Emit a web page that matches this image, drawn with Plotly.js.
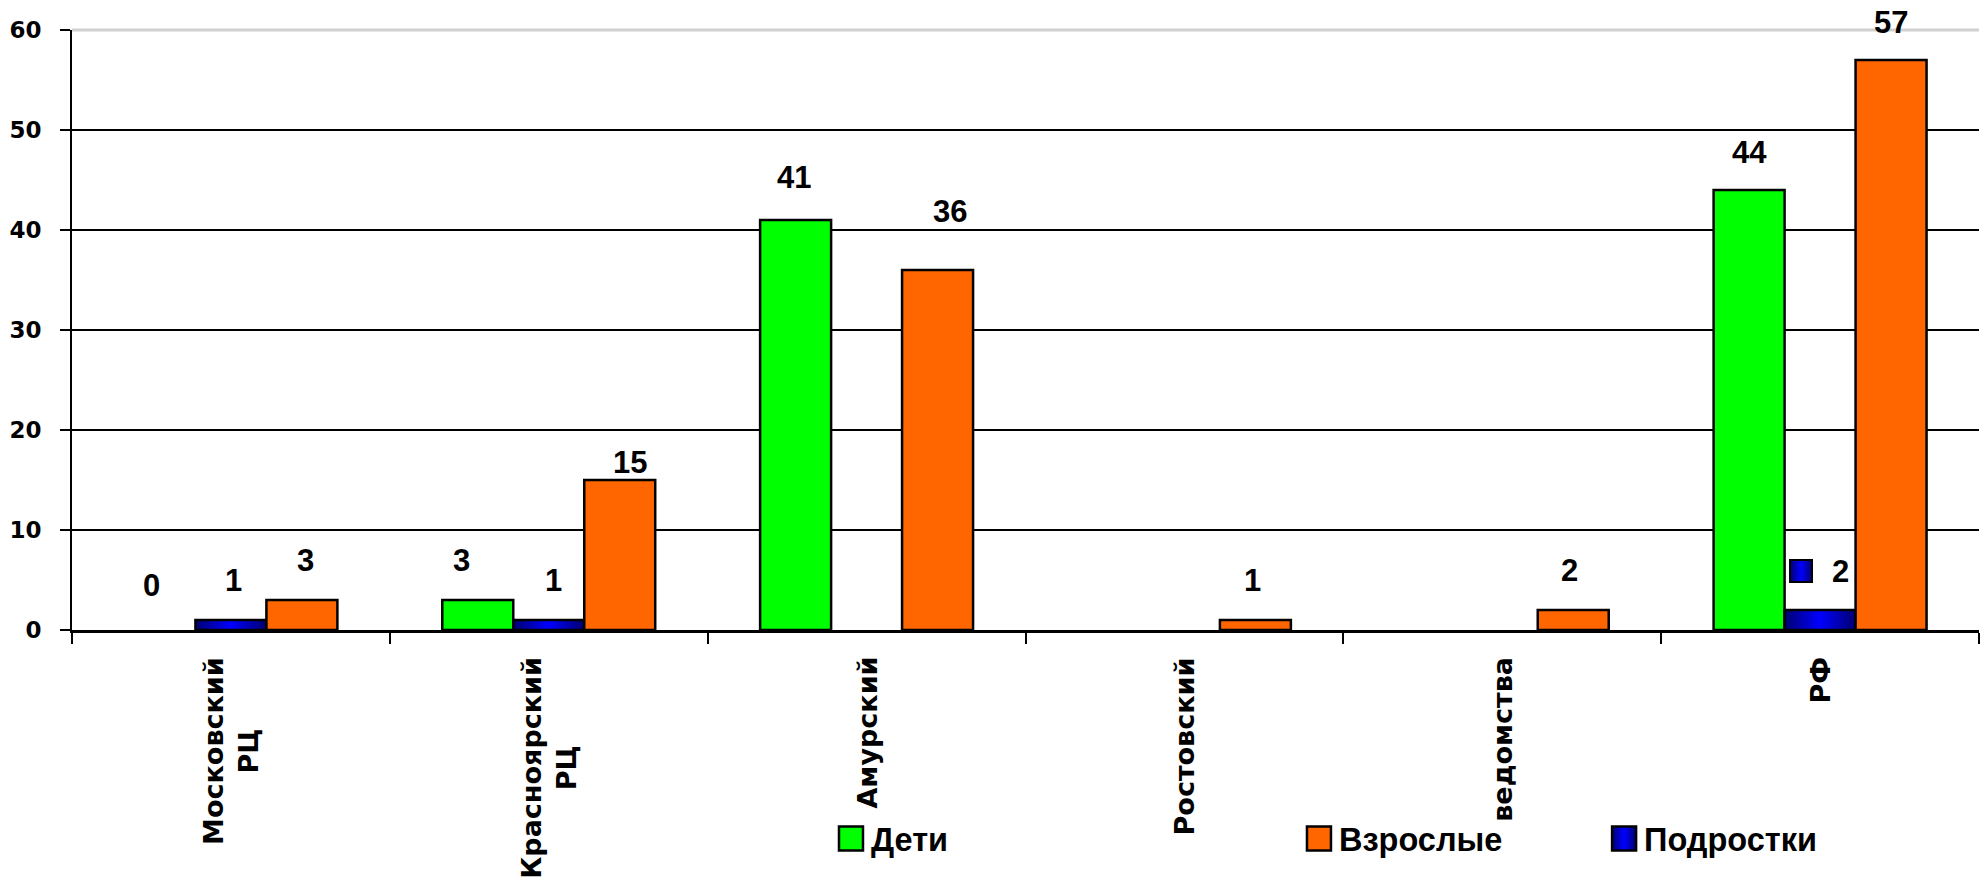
<!DOCTYPE html>
<html>
<head>
<meta charset="utf-8">
<script src="https://cdn.plot.ly/plotly-3.0.1.min.js"></script>
<style>
  html, body { margin: 0; padding: 0; background: #ffffff; }
  #chart { width: 1988px; height: 882px; }
</style>
</head>
<body>
<div id="chart"></div>
<script>
// ---- data ----
const categories = ["Московский РЦ", "Красноярский РЦ", "Амурский", "Ростовский", "ведомства", "РФ"];
const categoryLabels = ["Московский<br>РЦ", "Красноярский<br>РЦ", "Амурский", "Ростовский", "ведомства", "РФ"];
const seriesNames = ["Дети", "Подростки", "Взрослые"];
const deti = [0, 3, 41, null, null, 44];
const podrostki = [1, 1, null, null, null, 2];
const vzroslye = [3, 15, 36, 1, 2, 57];
const yTicks = [0, 10, 20, 30, 40, 50, 60];
// label of РФ / Подростки carries a legend key in the original
const keyedLabel = { series: 1, index: 5 };

// ---- styles (label offsets in px, as placed in the original) ----
const labelDy = [
  [45, 40, 43, 40, 40, 38],
  [40, 40, 40, 40, 40, 39],
  [40, 18, 59, 40, 40, 38]
];
const labelDx = [
  [-8, -16, -2, 0, 0, 0],
  [3, 5, 0, 0, 0, 0],
  [4, 10, 12, -3, -4, 0]
];
const colors = ["#00ff00", "#0000ff", "#ff6600"];
const legendIds = ["legend", "legend3", "legend2"];
const BARGAP = 0.33;
const numFont = { family: "Liberation Sans, Arial, sans-serif", size: 31, color: "#000", weight: 700 };
const seriesValues = [deti, podrostki, vzroslye];

const data = seriesValues.map((vals, s) => ({
  type: "bar",
  name: seriesNames[s],
  x: categories,
  y: vals,
  legend: legendIds[s],
  marker: {
    color: colors[s],
    line: { color: "#000000", width: vals.map(v => (v === 0 ? 0 : 2.5)) }
  },
  hoverinfo: "skip"
}));

const annotations = [];
// value labels
const slotW = (1 - BARGAP) / seriesValues.length;
seriesValues.forEach((vals, s) => {
  vals.forEach((v, i) => {
    if (v === null) return;
    const xc = i + (s - (seriesValues.length - 1) / 2) * slotW;
    const dy = labelDy[s][i], dx = labelDx[s][i];
    if (s === keyedLabel.series && i === keyedLabel.index) {
      annotations.push({
        x: xc, y: v, xref: "x", yref: "y", showarrow: false,
        text: " ", width: 20, height: 20,
        bgcolor: colors[s], bordercolor: "#000", borderwidth: 2, borderpad: 0,
        xanchor: "center", yanchor: "middle", xshift: dx - 19, yshift: dy
      });
      annotations.push({
        x: xc, y: v, xref: "x", yref: "y", showarrow: false,
        text: String(v), font: numFont,
        xanchor: "center", yanchor: "middle", xshift: dx + 20, yshift: dy
      });
    } else {
      annotations.push({
        x: xc, y: v, xref: "x", yref: "y", showarrow: false,
        text: String(v), font: numFont,
        xanchor: "center", yanchor: "middle", xshift: dx, yshift: dy
      });
    }
  });
});
// category labels (rotated, centred lines)
categoryLabels.forEach((lab, i) => {
  annotations.push({
    x: i, y: 0, xref: "x", yref: "paper", showarrow: false,
    text: lab, textangle: -90, align: "center",
    font: { family: "DejaVu Sans, Verdana, sans-serif", size: 27, color: "#000", weight: 700 },
    xanchor: "center", yanchor: "top", yshift: -25
  });
});

const legendBase = {
  orientation: "v", xanchor: "left", yanchor: "middle", y: -0.348,
  bgcolor: "rgba(0,0,0,0)", borderwidth: 0,
  font: { family: "Liberation Sans, Arial, sans-serif", size: 32.5, color: "#000", weight: 700 }
};

const layout = {
  width: 1988, height: 882,
  margin: { l: 72, r: 9, t: 30, b: 252, autoexpand: false },
  paper_bgcolor: "#ffffff", plot_bgcolor: "#ffffff",
  barmode: "group", bargap: BARGAP, bargroupgap: 0,
  showlegend: true,
  legend: Object.assign({}, legendBase, { x: 0.398 }),
  legend2: Object.assign({}, legendBase, { x: 0.6434 }),
  legend3: Object.assign({}, legendBase, { x: 0.8034 }),
  xaxis: {
    type: "category", showticklabels: false,
    tickson: "boundaries", ticks: "outside", ticklen: 11, tickwidth: 2, tickcolor: "#000",
    showline: true, linecolor: "#000", linewidth: 2.5, showgrid: false, zeroline: false
  },
  yaxis: {
    range: [0, 60], tickvals: yTicks, ticktext: yTicks.map(String),
    ticks: "outside", ticklen: 10, tickwidth: 2, tickcolor: "#000",
    ticklabelstandoff: 14,
    tickfont: { family: "DejaVu Sans, Verdana, sans-serif", size: 23, color: "#000", weight: 700 },
    showline: true, linecolor: "#000", linewidth: 2,
    showgrid: true, gridcolor: "#000", gridwidth: 2, zeroline: false
  },
  shapes: [
    { type: "line", xref: "paper", yref: "paper", x0: 0, x1: 1, y0: 1, y1: 1,
      line: { color: "#d0d0d0", width: 3 }, layer: "above" }
  ],
  annotations: annotations
};

const gd = document.getElementById("chart");
Plotly.newPlot(gd, data, layout, { staticPlot: true, displayModeBar: false }).then(() => {
  const ns = "http://www.w3.org/2000/svg";
  const svg = gd.querySelector("svg.main-svg");
  let defs = svg.querySelector("defs");
  if (!defs) { defs = document.createElementNS(ns, "defs"); svg.insertBefore(defs, svg.firstChild); }
  const lg = document.createElementNS(ns, "linearGradient");
  lg.setAttribute("id", "blueGrad");
  lg.setAttribute("x1", "0"); lg.setAttribute("y1", "0");
  lg.setAttribute("x2", "1"); lg.setAttribute("y2", "0");
  [["0", "#000070"], ["0.5", "#0000ff"], ["1", "#000070"]].forEach(([o, c]) => {
    const st = document.createElementNS(ns, "stop");
    st.setAttribute("offset", o); st.setAttribute("stop-color", c);
    lg.appendChild(st);
  });
  defs.appendChild(lg);
  const isBlue = el => (el.style.fill || "").replace(/\s/g, "") === "rgb(0,0,255)";
  const traces = gd.querySelectorAll(".barlayer .trace.bars");
  if (traces[1]) traces[1].querySelectorAll("path").forEach(p => { p.style.fill = "url(#blueGrad)"; });
  gd.querySelectorAll(".legendpoints path").forEach(p => {
    p.setAttribute("d", "M12,12H-12V-12H12Z");
    p.style.stroke = "#000";
    p.style.strokeWidth = "2.5px";
    p.style.strokeOpacity = "1";
    if (isBlue(p)) p.style.fill = "url(#blueGrad)";
  });
  gd.querySelectorAll(".annotation rect").forEach(r => {
    if (isBlue(r)) r.style.fill = "url(#blueGrad)";
  });
});
</script>
</body>
</html>
